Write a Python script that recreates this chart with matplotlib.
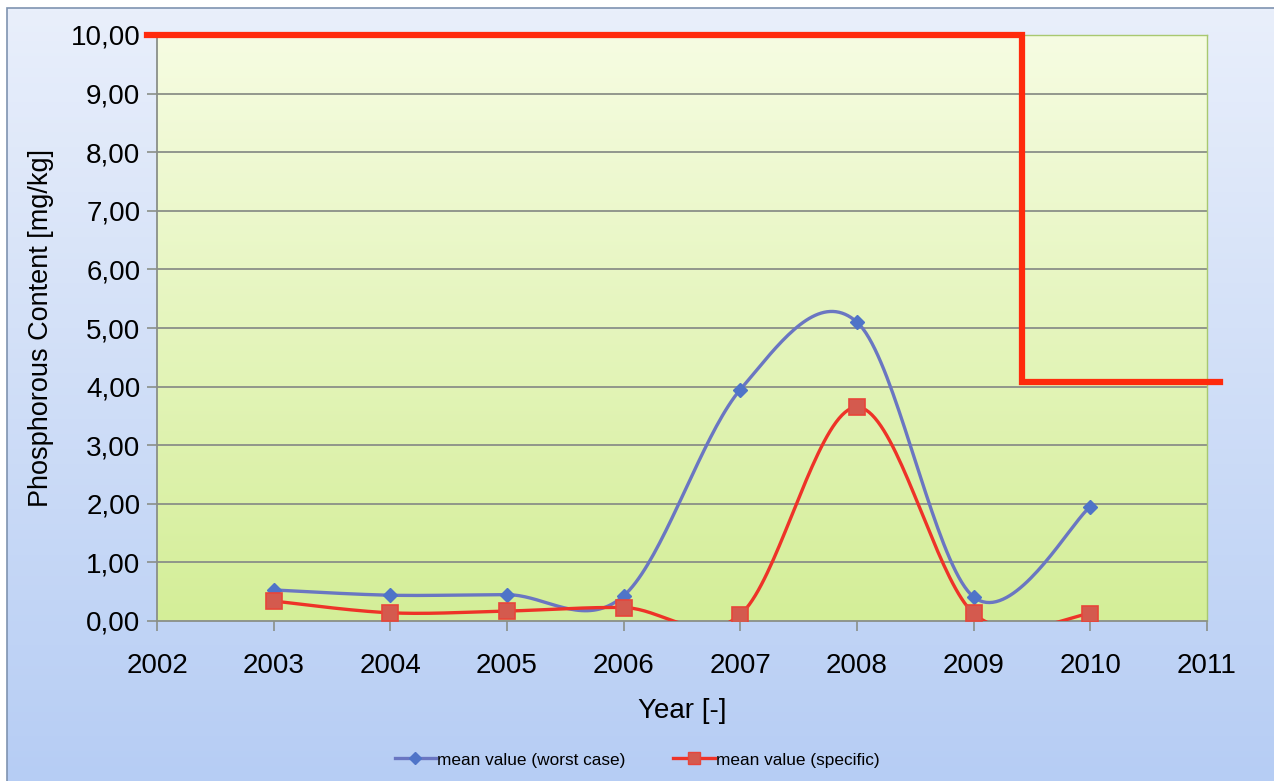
import numpy as np
import matplotlib
matplotlib.use("Agg")
import matplotlib.pyplot as plt
from matplotlib.colors import LinearSegmentedColormap
from matplotlib.patches import Rectangle
from matplotlib.lines import Line2D

plt.rcParams['font.family'] = ['Liberation Sans', 'DejaVu Sans']

years = [2003, 2004, 2005, 2006, 2007, 2008, 2009, 2010]
worst_case = [0.53, 0.44, 0.45, 0.43, 3.95, 5.10, 0.41, 1.95]
specific = [0.34, 0.14, 0.17, 0.23, 0.11, 3.65, 0.13, 0.12]

# limit line (step)
limit_x = [2001.91, 2009.41, 2009.41, 2011.11]
limit_y = [10.0, 10.0, 4.07, 4.07]

x_ticks = list(range(2002, 2012))
y_ticks = [0, 1, 2, 3, 4, 5, 6, 7, 8, 9, 10]


def smooth(xs, ys, n=40):
    # excel style smoothing: catmull-rom as cubic bezier
    p = np.column_stack([xs, ys]).astype(float)
    p = np.vstack([p[0], p, p[-1]])
    out = []
    t = np.linspace(0, 1, n)[:, None]
    for i in range(1, len(p) - 2):
        p0, p1 = p[i], p[i + 1]
        c1 = p0 + (p[i + 1] - p[i - 1]) / 6
        c2 = p1 - (p[i + 2] - p[i]) / 6
        seg = (1 - t) ** 3 * p0 + 3 * (1 - t) ** 2 * t * c1 + 3 * (1 - t) * t ** 2 * c2 + t ** 3 * p1
        out.append(seg if i == 1 else seg[1:])
    out = np.vstack(out)
    return out[:, 0], out[:, 1]


fig = plt.figure(figsize=(12.74, 7.81), dpi=100)
fig.patch.set_facecolor('white')

# figure background gradient
bg = fig.add_axes([0, 0, 1, 1], zorder=-10)
bg.set_xlim(0, 1)
bg.set_ylim(0, 1)
bg.axis('off')
bg_cmap = LinearSegmentedColormap.from_list('bg', ['#b6cdf4', '#e9effb'])
grad = np.linspace(0, 1, 256)[:, None]
x0, y1 = 7 / 1274, 1 - 8 / 781
bg.imshow(grad, cmap=bg_cmap, aspect='auto', origin='lower',
          extent=[x0, 1, 0, y1])
bg.add_patch(Rectangle((x0, -0.01), 1.01 - x0, y1 + 0.01, fill=False,
                       edgecolor='#7f93b0', lw=1.2))

ax = fig.add_axes([157 / 1274, 1 - 621 / 781, 1050 / 1274, 586 / 781])
ax.set_xlim(2002, 2011)
ax.set_ylim(0, 10)
ax.patch.set_alpha(0)

plot_cmap = LinearSegmentedColormap.from_list('pa', ['#d4ee98', '#f6fce2'])
ax.imshow(grad, cmap=plot_cmap, aspect='auto', origin='lower',
          extent=[2002, 2011, 0, 10], zorder=0)

for yv in y_ticks[1:-1]:
    ax.axhline(yv, color='#8a8f88', lw=1.3, zorder=1)

for s in ['top', 'right']:
    ax.spines[s].set_color('#a8c870')
    ax.spines[s].set_linewidth(1.0)
for s in ['left', 'bottom']:
    ax.spines[s].set_color('#8a8f88')
    ax.spines[s].set_linewidth(1.3)

sx, sy = smooth(years, worst_case)
ax.plot(sx, sy, color='#6a76c2', lw=2.4, zorder=3)
ax.plot(years, worst_case, ls='none', marker='D', ms=7.5, color='#4f74c8',
        mec='#4f74c8', zorder=4)

sx, sy = smooth(years, specific)
ax.plot(sx, sy, color='#ee3328', lw=2.4, zorder=3)
ax.plot(years, specific, ls='none', marker='s', ms=11, color='#d45a4e',
        mec='#e8453a', mew=1.2, zorder=4)

ax.plot(limit_x, limit_y, color='#ff2a0c', lw=4.5, clip_on=False,
        solid_joinstyle='miter', zorder=5)

ax.set_xticks(x_ticks)
ax.set_xticklabels([str(v) for v in x_ticks])
ax.set_yticks(y_ticks)
ax.set_yticklabels([f"{v:.2f}".replace('.', ',') for v in y_ticks])
ax.tick_params(axis='both', labelsize=20, colors='#8a8f88', labelcolor='black',
               length=7, width=1.2)
ax.tick_params(axis='x', pad=16)
ax.tick_params(axis='y', pad=5)

ax.set_xlabel('Year [-]', fontsize=20, labelpad=14)
ax.set_ylabel('Phosphorous Content [mg/kg]', fontsize=19.5, labelpad=12)

handles = [
    Line2D([], [], color='#6a76c2', lw=2.4, marker='D', ms=6,
           mfc='#4f74c8', mec='#4f74c8'),
    Line2D([], [], color='#ee3328', lw=2.4, marker='s', ms=9,
           mfc='#d45a4e', mec='#e8453a'),
]
fig.legend(handles, ['mean value (worst case)', 'mean value (specific)'],
           loc='center', bbox_to_anchor=(0.5, 1 - 760 / 781), ncol=2,
           frameon=False, fontsize=12.4, handlelength=2.4, handletextpad=0.05,
           columnspacing=2.8)

fig.savefig('out.png', dpi=100)
